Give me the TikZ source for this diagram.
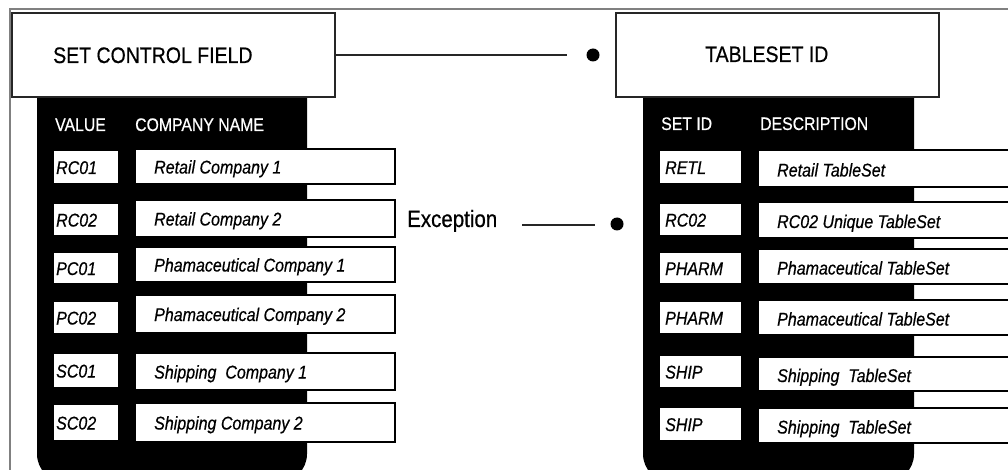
\documentclass[tikz,border=0pt]{standalone}
\usepackage{fontspec}
\setmainfont{Liberation Sans}[FakeBold=0.6]
\newcommand{\tallx}[1]{\scalebox{1}[1.15]{#1}}
\begin{document}
\begin{tikzpicture}[x=1pt,y=-1pt,
  hdrbox/.style={draw=black!85, line width=1.7pt, fill=white, inner sep=0pt, outer sep=0pt, anchor=north west},
  cell/.style={draw=black, line width=1.2pt, fill=white, inner sep=0pt, outer sep=0pt, anchor=north west},
  titletxt/.style={inner sep=0pt, anchor=base west, font=\fontsize{19.5}{22}\selectfont},
  colhdr/.style={inner sep=0pt, anchor=base west, text=white, font=\fontsize{15.8}{18}\selectfont},
  rowtxt/.style={inner sep=0pt, anchor=base west, font=\fontsize{16}{18}\selectfont\itshape},
  exctxt/.style={inner sep=0pt, anchor=base west, font=\fontsize{20.5}{23}\selectfont},
  dotn/.style={circle, fill=black, inner sep=0pt, minimum size=13pt},
  conn/.style={draw=black!85, line width=1.3pt},
  frame/.style={draw=black!50, line width=2pt},
  panel/.style={fill=black}
]
\useasboundingbox (0,0) rectangle (1008,470);
\clip (0,0) rectangle (1008,470);
% outer frame
\draw[frame] (9.5,490) -- (9.5,9.5) -- (1030,9.5);
% black panels
\fill[panel] (37,97) -- (37,454) arc[start angle=180, end angle=90, radius=28] -- (279,482) arc[start angle=90, end angle=0, radius=28] -- (307,97) -- cycle;
\fill[panel] (643,97) -- (643,454) arc[start angle=180, end angle=90, radius=28] -- (886,482) arc[start angle=90, end angle=0, radius=28] -- (914,97) -- cycle;
% header boxes
\node[hdrbox, minimum width=323pt, minimum height=84pt] (scf) at (12,13) {};
\node[titletxt] (scft) at (53,63) {\tallx{SET CONTROL FIELD}};
\node[hdrbox, minimum width=323pt, minimum height=84pt] (tsid) at (616,13) {};
\node[titletxt] (tsidt) at (705,62) {\tallx{TABLESET ID}};
% column headers
\node[colhdr] (hv) at (55,131) {\tallx{VALUE}};
\node[colhdr] (hc) at (135,131) {\tallx{COMPANY NAME}};
\node[colhdr] (hs) at (661,130) {\tallx{SET ID}};
\node[colhdr] (hd) at (760,130) {\tallx{DESCRIPTION}};
% left rows
\foreach \i/\vt/\vb/\nt/\nb/\v/\n in {
  1/150/184/149/184/RC01/{Retail Company 1},
  2/203/236/200/237/RC02/{Retail Company 2},
  3/252/284/247/282/PC01/{Phamaceutical Company 1},
  4/301/334/295/333/PC02/{Phamaceutical Company 2},
  5/353/388/353/390/SC01/{Shipping~ Company 1},
  6/404/441/403/442/SC02/{Shipping Company 2}} {
  \node[cell, minimum width=66pt, minimum height={(\vb-\vt)*1pt}] (lv\i) at (53,\vt) {};
  \node[cell, minimum width=260pt, minimum height={(\nb-\nt)*1pt}] (ln\i) at (135,\nt) {};
  \node[rowtxt] (lvt\i) at (56,{(\vt+\vb)/2+7}) {\tallx{\v}};
  \node[rowtxt] (lnt\i) at (154,{(\nt+\nb)/2+7}) {\tallx{\n}};
}
% right rows
\foreach \i/\vt/\vb/\nt/\nb/\v/\n in {
  1/150/184/150/187/RETL/{Retail TableSet},
  2/203/236/202/238/RC02/{RC02 Unique TableSet},
  3/252/284/249/284/PHARM/{Phamaceutical TableSet},
  4/301/334/300/335/PHARM/{Phamaceutical TableSet},
  5/355/388/357/391/SHIP/{Shipping~ TableSet},
  6/407/441/408/443/SHIP/{Shipping~ TableSet}} {
  \node[cell, minimum width=83pt, minimum height={(\vb-\vt)*1pt}] (rv\i) at (659,\vt) {};
  \node[cell, minimum width=280pt, minimum height={(\nb-\nt)*1pt}] (rn\i) at (758,\nt) {};
  \node[rowtxt] (rvt\i) at (665,{(\vt+\vb)/2+7}) {\tallx{\v}};
  \node[rowtxt] (rnt\i) at (777,{(\nt+\nb)/2+8}) {\tallx{\n}};
}
% connectors
\coordinate (c1) at (567,55);
\node[dotn] (d1) at (593,55) {};
\draw[conn] (scf.east) -- (c1);
\node[exctxt] (exc) at (407,227) {\tallx{Exception}};
\coordinate (e1) at (522,225);
\coordinate (e2) at (595,225);
\node[dotn] (d2) at (617,224) {};
\draw[conn] (e1) -- (e2);
\end{tikzpicture}
\end{document}
